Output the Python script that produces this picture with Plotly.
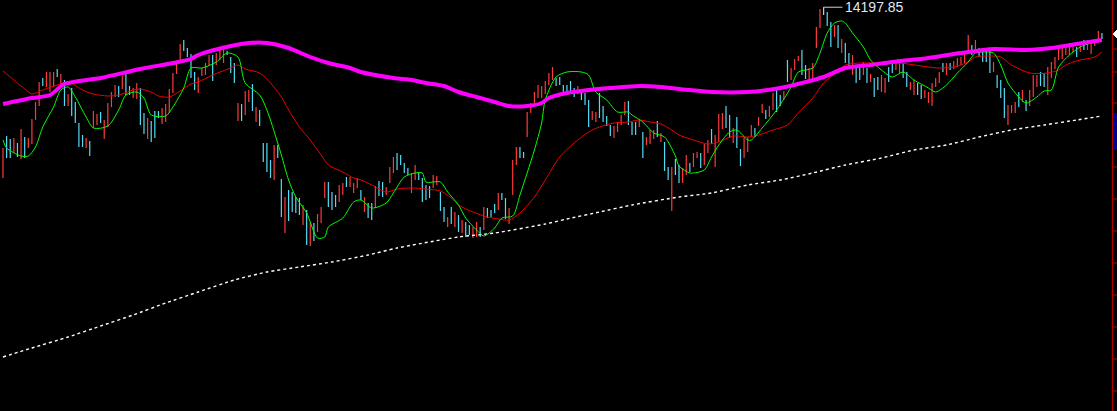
import plotly.graph_objects as go

# ---------------- data (index points; price scale of the chart) ----------------
high = [12790,12910,12880,12890,12840,12980,12900,12890,13080,13250,
        13450,13490,13550,13550,13550,13580,13530,13470,13330,13390,
        13250,13040,12920,12890,12860,13160,13130,13150,13070,13240,
        13350,13420,13410,13510,13530,13410,13390,13440,13390,13140,
        13090,13060,13160,13160,13190,13230,13380,13540,13640,13830,
        13870,13790,13730,13550,13500,13590,13640,13720,13720,13740,
        13790,13790,13760,13700,13640,13240,13230,13360,13370,13430,
        13200,13170,12840,12840,12670,12820,12820,12480,12300,12370,
        12350,12300,12290,12220,12170,12050,12040,12130,12200,12450,
        12450,12350,12320,12420,12440,12500,12500,12440,12490,12370,
        12300,12240,12240,12410,12460,12450,12400,12600,12700,12740,
        12720,12640,12590,12540,12620,12540,12490,12420,12410,12520,
        12510,12350,12200,12100,12200,12150,12120,12070,12050,12020,
        12000,12050,12000,12200,12190,12170,12230,12340,12340,12290,
        12190,12670,12800,12800,12750,13150,13240,13350,13420,13410,
        13460,13540,13600,13490,13500,13420,13420,13460,13390,13410,
        13340,13340,13270,13160,13150,13340,13210,13110,13020,13010,
        13050,13120,13250,13260,13050,13050,13070,12950,12900,12970,
        12970,13060,12940,12850,12600,12600,12680,12620,12590,12720,
        12640,12740,12750,12740,12830,12870,12980,12920,13130,13140,
        13210,13120,12990,13100,12780,12890,12900,13020,12990,13100,
        13230,13170,13210,13340,13370,13320,13360,13670,13590,13680,
        13710,13770,13620,13590,13640,14000,14180,14197.85,14150,14050,
        14020,14020,13880,13840,13740,13720,13600,13620,13650,13590,
        13530,13490,13500,13520,13490,13600,13640,13650,13640,13640,
        13550,13450,13470,13440,13420,13370,13350,13440,13490,13550,
        13640,13640,13640,13660,13690,13700,13740,13920,13820,13870,
        13790,13790,13790,13780,13650,13520,13470,13390,13220,13220,
        13250,13350,13370,13270,13370,13520,13520,13550,13540,13600,
        13650,13700,13790,13800,13830,13840,13840,13800,13850,13870,
        13870,13860,13880,13960,13940]
low = [12490,12690,12690,12740,12700,12680,12690,12790,12830,13070,
       13210,13410,13400,13350,13400,13500,13400,13210,13210,13110,
       13040,12800,12800,12790,12710,12990,13020,13040,12880,13000,
       13200,13300,13300,13380,13320,13320,13290,13280,13020,12930,
       12880,12850,12890,13090,13030,13050,13140,13340,13530,13670,
       13760,13700,13490,13370,13340,13510,13520,13610,13460,13620,
       13670,13640,13720,13540,13440,13060,13060,13120,13250,13160,
       13050,13010,12650,12550,12490,12470,12690,12100,11940,12060,
       12150,12140,12120,12020,11820,11810,11860,11950,12040,12290,
       12200,12170,12200,12250,12320,12400,12400,12340,12390,12270,
       12150,12090,12070,12190,12310,12300,12320,12440,12540,12570,
       12620,12540,12520,12340,12470,12470,12250,12270,12290,12390,
       12420,12160,12050,12000,12030,12000,11950,11940,11900,11920,
       11890,11900,11900,11970,12090,12100,12140,12170,12270,12080,
       12030,12320,12620,12690,12690,12900,13140,13240,13290,13290,
       13330,13420,13470,13410,13420,13350,13350,13330,13300,13330,
       13270,13220,13000,13070,13050,13090,13050,13010,12910,12890,
       12950,13020,13120,13020,12920,12920,13000,12690,12820,12830,
       12880,12900,12850,12560,12470,12160,12520,12440,12440,12520,
       12550,12600,12690,12590,12620,12740,12830,12600,12850,12980,
       12990,12890,12840,12790,12610,12690,12750,12900,12900,13010,
       13140,13080,13100,13170,13150,13210,13270,13450,13470,13570,
       13660,13520,13480,13470,13470,13790,13990,14120,14010,13800,
       13900,13790,13740,13640,13600,13520,13440,13470,13520,13440,
       13450,13300,13370,13350,13340,13450,13540,13570,13540,13490,
       13400,13370,13320,13320,13280,13290,13240,13210,13400,13440,
       13550,13520,13570,13580,13600,13620,13640,13740,13720,13750,
       13700,13650,13650,13540,13550,13390,13290,13090,13020,13140,
       13140,13200,13250,13160,13210,13300,13400,13410,13400,13320,
       13490,13580,13670,13680,13720,13720,13750,13700,13750,13770,
       13770,13730,13810,13850,13880]
up = [1,0,0,1,0,1,0,1,1,1, 1,0,1,1,1,0,1,0,1,0, 0,0,0,1,0,1,1,0,1,1,
      1,1,0,1,0,0,1,1,0,0, 1,0,0,0,1,1,1,1,1,1, 0,0,0,0,1,1,1,1,0,1,
      1,1,0,0,0,1,0,1,1,0, 1,0,0,0,0,1,0,0,1,0, 0,0,0,1,0,1,0,1,1,1,
      0,0,0,1,1,0,1,1,1,0, 1,0,0,1,0,0,1,1,1,0, 0,0,0,1,1,0,0,0,0,1,
      1,0,0,1,0,1,0,1,0,0, 1,1,0,1,0,0,0,1,0,0, 1,1,1,0,0,1,1,1,1,1,
      1,1,1,0,0,0,0,0,0,1, 0,0,0,1,1,0,0,0,0,1, 1,1,1,0,0,0,1,0,1,1,
      1,0,1,0,0,1,0,0,1,1, 0,1,1,0,1,1,0,1,1,1, 0,0,1,0,0,1,1,1,0,1,
      1,0,1,1,0,0,1,0,1,1, 1,0,0,1,1,1,1,0,0,0, 1,0,1,0,0,1,0,0,1,0,
      1,0,0,1,1,0,0,1,1,0, 0,1,1,0,0,1,1,1,1,1, 0,1,0,1,1,1,1,1,0,1,
      0,0,0,0,1,0,0,0,1,1, 1,0,1,0,1,1,1,0,0,1, 1,1,1,1,1,1,1,0,1,0,
      1,1,1,1,0]

# short moving average (green)
ma_s_idx = [0,1,5,7,9,11,14,16,18,20,23,25,29,32,34,37,39,41,45,47,
            50,52,55,59,62,65,67,71,73,76,77,79,81,84,87,89,90,94,97,99,
            102,106,108,111,114,116,117,121,123,126,128,131,133,136,138,141,143,145,147,149,
            150,153,156,160,162,164,167,170,173,174,177,180,183,186,187,190,191,194,196,198,
            201,203,206,207,210,214,218,220,224,226,228,230,232,233,235,238,240,243,246,249,
            252,256,258,261,264,267,269,272,274,276,278,281,283,286,288,290,292,295,298,301,304]
ma_s_val = [12870,12790,12710,12710,12800,13000,13200,13370,13400,13300,
            13100,12990,13010,13170,13320,13350,13290,13120,13110,13200,
            13390,13590,13590,13650,13740,13700,13440,13320,13170,12840,
            12720,12470,12300,12140,11890,11900,12000,12090,12250,12270,
            12190,12240,12340,12500,12540,12540,12450,12450,12350,12220,
            12090,11970,11910,11990,12090,12110,12320,12540,12770,13040,
            13270,13500,13550,13550,13520,13350,13270,13150,13150,13120,
            13050,12940,12900,12710,12610,12540,12540,12570,12700,12820,
            12950,12970,12870,12870,12990,13170,13400,13550,13590,13740,
            13940,14040,14060,14040,13940,13800,13670,13570,13500,13550,
            13470,13390,13350,13420,13540,13650,13740,13750,13740,13620,
            13440,13300,13240,13300,13360,13370,13600,13720,13800,13840,13870]

# middle moving average (red)
ma_m_idx = [0,3,6,8,11,15,18,22,25,29,32,36,38,41,43,46,49,52,54,58,
            63,65,67,71,74,77,79,82,85,88,90,94,97,99,102,106,109,113,117,121,
            124,126,130,134,137,140,143,147,150,154,158,162,165,169,173,176,179,182,185,187,
            191,195,198,202,206,209,213,217,220,224,227,230,233,237,243,248,256,259,263,267,
            269,273,276,279,284,289,292,294,298,302,304]
ma_m_val = [13560,13470,13380,13330,13370,13420,13450,13370,13330,13310,
            13320,13370,13380,13350,13310,13300,13360,13430,13450,13520,
            13590,13620,13580,13540,13440,13300,13170,13000,12870,12720,
            12620,12550,12490,12470,12420,12350,12380,12390,12380,12360,
            12290,12220,12150,12100,12080,12070,12140,12300,12470,12700,
            12840,12950,13000,13040,13050,13070,13050,13030,12970,12920,
            12870,12830,12850,12910,12900,12920,12970,13020,13140,13290,
            13440,13530,13620,13640,13640,13640,13600,13590,13600,13650,
            13700,13710,13700,13620,13540,13540,13570,13620,13670,13700,13750]

# long moving average (magenta)
ma_l_idx = [0,8,13,17,27,38,47,52,54,63,68,73,79,85,90,96,99,108,113,117,
            122,126,131,136,140,145,149,151,156,162,168,176,182,190,196,206,215,221,227,233,
            240,246,256,265,274,283,290,297,304]
ma_l_val = [13230,13290,13320,13430,13490,13580,13640,13680,13720,13810,
            13840,13840,13790,13700,13640,13590,13550,13490,13470,13440,
            13410,13350,13300,13250,13210,13210,13240,13290,13340,13370,
            13390,13410,13400,13370,13350,13350,13390,13440,13500,13590,
            13620,13650,13690,13740,13780,13770,13790,13830,13870]

# very long moving average (white dotted)
ma_xl_idx = [0,8,18,27,36,45,54,64,73,82,91,101,109,126,136,150,156,165,174,187,
             196,206,215,224,233,243,252,261,270,279,288,297,304]
ma_xl_val = [10700,10790,10900,11010,11120,11240,11350,11470,11550,11600,
             11650,11720,11790,11900,11940,12030,12080,12150,12220,12300,
             12340,12420,12470,12540,12620,12690,12770,12820,12900,12970,
             13020,13070,13110]

peak_label = "14197.85"

# ---------------- figure ----------------
UP_COLOR = "#ff3a3a"
DOWN_COLOR = "#55dcf5"

def segs(flag):
    xs, ys = [], []
    for i, (h, l, u) in enumerate(zip(high, low, up)):
        if u == flag:
            xs += [i, i, None]
            ys += [l, h, None]
    return xs, ys

fig = go.Figure()

xd, yd = segs(0)
fig.add_trace(go.Scatter(x=xd, y=yd, mode="lines", line=dict(color=DOWN_COLOR, width=1.2),
                         hoverinfo="skip", showlegend=False))
xu, yu = segs(1)
fig.add_trace(go.Scatter(x=xu, y=yu, mode="lines", line=dict(color=UP_COLOR, width=1.2),
                         hoverinfo="skip", showlegend=False))

fig.add_trace(go.Scatter(x=ma_xl_idx, y=ma_xl_val, mode="lines",
                         line=dict(color="#ffffff", width=1.4, dash="3px,3px", shape="spline", smoothing=0.6),
                         showlegend=False))
fig.add_trace(go.Scatter(x=ma_m_idx, y=ma_m_val, mode="lines",
                         line=dict(color="#ee0000", width=1, shape="spline", smoothing=0.8),
                         showlegend=False))
fig.add_trace(go.Scatter(x=ma_s_idx, y=ma_s_val, mode="lines",
                         line=dict(color="#00ff00", width=1, shape="spline", smoothing=0.8),
                         showlegend=False))
fig.add_trace(go.Scatter(x=ma_l_idx, y=ma_l_val, mode="lines",
                         line=dict(color="#ff00ff", width=4, shape="spline", smoothing=0.8),
                         showlegend=False))

# peak marker
peak_i = max(range(len(high)), key=lambda k: high[k])
peak_v = high[peak_i]
fig.add_shape(type="line", x0=peak_i, x1=peak_i + 5.2, y0=peak_v, y1=peak_v,
              line=dict(color="#d0d0d0", width=1))
fig.add_shape(type="line", x0=peak_i, x1=peak_i, y0=peak_v, y1=low[peak_i],
              line=dict(color="#c8c8c8", width=1))
fig.add_annotation(x=peak_i + 5.5, y=peak_v, text=peak_label, showarrow=False,
                   xanchor="left", yanchor="middle",
                   font=dict(family="Liberation Sans, Arial", size=14, color="#dfe8f2"))

# right-edge price axis decorations (paper coordinates)
W, H = 1117.0, 411.0
axis_x = 1112.5 / W
fig.add_shape(type="line", xref="paper", yref="paper", x0=axis_x, x1=axis_x, y0=0, y1=1,
              line=dict(color="#b00000", width=1))
for ty in [49, 72, 103, 135, 167, 199, 231, 263, 295, 327, 359, 391]:
    fig.add_shape(type="line", xref="paper", yref="paper", x0=axis_x, x1=1.0,
                  y0=1 - ty / H, y1=1 - ty / H, line=dict(color="#b00000", width=1))
fig.add_shape(type="rect", xref="paper", yref="paper", x0=1113 / W, x1=1.0,
              y0=1 - 150 / H, y1=1 - 113 / H, fillcolor="#000090", line=dict(width=0))
fig.add_shape(type="path", xref="paper", yref="paper",
              path=f"M {1113/W} {1-34/H} L {1117/W} {1-30/H} L {1117/W} {1-38/H} Z",
              fillcolor="#ffffff", line=dict(color="#ffffff", width=1))

fig.update_layout(
    width=1117, height=411,
    margin=dict(l=0, r=0, t=0, b=0),
    paper_bgcolor="#000000", plot_bgcolor="#000000",
    xaxis=dict(range=[-3 / 3.615, (1117 - 3) / 3.615], visible=False, fixedrange=True),
    yaxis=dict(range=[14270 - 411 * 10, 14270], visible=False, fixedrange=True),
    showlegend=False,
)

fig.write_html(
    "out.html",
    config={"displayModeBar": False},
    post_script="document.body.style.margin='0';document.body.style.background='#000';"
                "document.documentElement.style.overflow='hidden';",
)
